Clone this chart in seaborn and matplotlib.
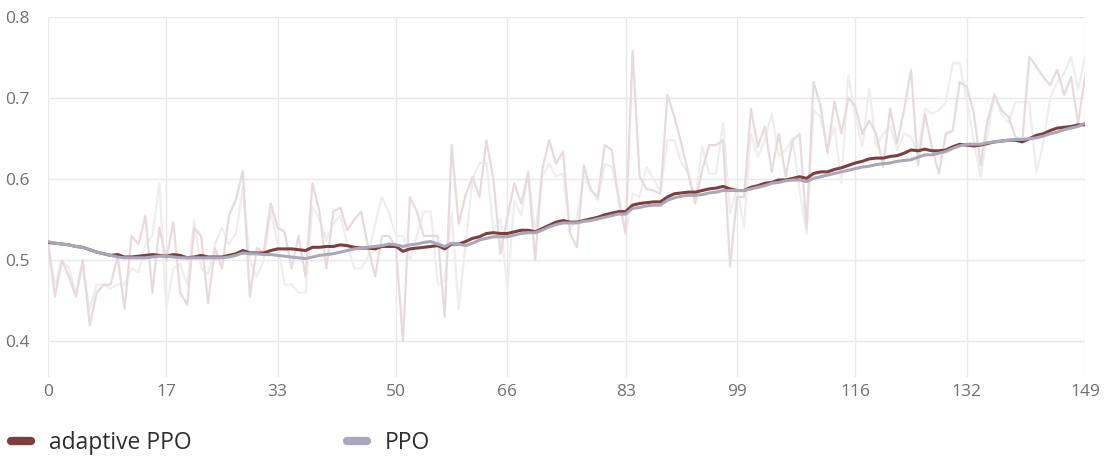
import numpy as np
import pandas as pd
import matplotlib
matplotlib.use("Agg")
import matplotlib.pyplot as plt
from matplotlib.lines import Line2D
import seaborn as sns

steps = list(range(150))

adaptive_raw = [
    0.523, 0.455, 0.50, 0.48, 0.455, 0.50, 0.42, 0.46, 0.47, 0.47,
    0.505, 0.44, 0.53, 0.52, 0.555, 0.46, 0.54, 0.50, 0.547, 0.46,
    0.445, 0.54, 0.53, 0.447, 0.515, 0.49, 0.555, 0.575, 0.61, 0.455,
    0.515, 0.51, 0.57, 0.54, 0.535, 0.49, 0.53, 0.48, 0.595, 0.56,
    0.49, 0.56, 0.565, 0.537, 0.55, 0.56, 0.516, 0.48, 0.53, 0.53,
    0.516, 0.40, 0.578, 0.56, 0.53, 0.53, 0.53, 0.43, 0.642, 0.545,
    0.58, 0.603, 0.578, 0.648, 0.60, 0.508, 0.553, 0.595, 0.57, 0.609,
    0.50, 0.611, 0.648, 0.619, 0.634, 0.533, 0.516, 0.617, 0.586, 0.578,
    0.642, 0.636, 0.574, 0.533, 0.758, 0.603, 0.588, 0.586, 0.582, 0.704,
    0.677, 0.644, 0.607, 0.57, 0.611, 0.642, 0.642, 0.648, 0.492, 0.578,
    0.578, 0.687, 0.64, 0.665, 0.609, 0.656, 0.603, 0.648, 0.656, 0.540,
    0.72, 0.69, 0.632, 0.696, 0.656, 0.70, 0.69, 0.656, 0.672, 0.656,
    0.615, 0.687, 0.644, 0.685, 0.735, 0.617, 0.68, 0.64, 0.607, 0.656,
    0.66, 0.72, 0.714, 0.683, 0.617, 0.673, 0.704, 0.685, 0.677, 0.652,
    0.648, 0.751, 0.739, 0.726, 0.716, 0.735, 0.704, 0.726, 0.669, 0.726,
]

ppo_raw = [
    0.52, 0.47, 0.50, 0.49, 0.46, 0.49, 0.44, 0.47, 0.47, 0.465,
    0.47, 0.47, 0.49, 0.485, 0.52, 0.53, 0.595, 0.44, 0.49, 0.495,
    0.47, 0.55, 0.49, 0.483, 0.52, 0.54, 0.52, 0.533, 0.59, 0.50,
    0.48, 0.50, 0.56, 0.52, 0.47, 0.47, 0.46, 0.46, 0.566, 0.55,
    0.525, 0.545, 0.555, 0.52, 0.49, 0.49, 0.505, 0.545, 0.578, 0.558,
    0.53, 0.53, 0.50, 0.53, 0.56, 0.56, 0.47, 0.475, 0.558, 0.44,
    0.52, 0.60, 0.62, 0.62, 0.537, 0.55, 0.463, 0.574, 0.555, 0.607,
    0.533, 0.603, 0.619, 0.603, 0.607, 0.537, 0.553, 0.603, 0.589, 0.574,
    0.619, 0.615, 0.578, 0.533, 0.582, 0.578, 0.615, 0.60, 0.586, 0.648,
    0.648, 0.62, 0.607, 0.574, 0.64, 0.607, 0.607, 0.669, 0.558, 0.59,
    0.541, 0.656, 0.628, 0.648, 0.681, 0.628, 0.636, 0.65, 0.586, 0.533,
    0.685, 0.677, 0.638, 0.665, 0.595, 0.728, 0.677, 0.64, 0.712, 0.64,
    0.656, 0.665, 0.636, 0.656, 0.652, 0.63, 0.687, 0.681, 0.685, 0.695,
    0.743, 0.743, 0.698, 0.648, 0.603, 0.656, 0.706, 0.68, 0.669, 0.695,
    0.695, 0.695, 0.609, 0.644, 0.70, 0.72, 0.73, 0.751, 0.71, 0.751,
]

adaptive_smooth = [
    0.522, 0.521, 0.520, 0.519, 0.517, 0.516, 0.513, 0.510, 0.508, 0.506,
    0.507, 0.504, 0.504, 0.505, 0.506, 0.507, 0.506, 0.505, 0.507, 0.506,
    0.503, 0.504, 0.506, 0.504, 0.504, 0.504, 0.506, 0.508, 0.512, 0.509,
    0.509, 0.509, 0.512, 0.514, 0.514, 0.514, 0.513, 0.512, 0.516, 0.516,
    0.517, 0.517, 0.519, 0.518, 0.516, 0.515, 0.515, 0.514, 0.517, 0.517,
    0.517, 0.511, 0.514, 0.515, 0.516, 0.517, 0.518, 0.514, 0.520, 0.520,
    0.523, 0.527, 0.529, 0.533, 0.534, 0.533, 0.533, 0.535, 0.537, 0.537,
    0.535, 0.539, 0.543, 0.547, 0.549, 0.547, 0.547, 0.549, 0.551, 0.553,
    0.556, 0.558, 0.560, 0.560, 0.568, 0.570, 0.571, 0.572, 0.572, 0.578,
    0.582, 0.583, 0.584, 0.584, 0.586, 0.588, 0.589, 0.591, 0.588, 0.586,
    0.586, 0.590, 0.592, 0.595, 0.596, 0.599, 0.599, 0.601, 0.603, 0.601,
    0.607, 0.609, 0.609, 0.612, 0.614, 0.617, 0.620, 0.622, 0.625, 0.626,
    0.626, 0.628, 0.629, 0.632, 0.636, 0.635, 0.637, 0.635, 0.635, 0.636,
    0.640, 0.643, 0.642, 0.641, 0.642, 0.644, 0.646, 0.647, 0.648, 0.648,
    0.646, 0.650, 0.654, 0.656, 0.660, 0.663, 0.664, 0.665, 0.667, 0.667,
]

ppo_smooth = [
    0.523, 0.521, 0.520, 0.519, 0.517, 0.516, 0.513, 0.510, 0.508, 0.506,
    0.504, 0.503, 0.503, 0.503, 0.503, 0.504, 0.505, 0.505, 0.504, 0.503,
    0.503, 0.503, 0.503, 0.503, 0.503, 0.503, 0.504, 0.506, 0.509, 0.508,
    0.508, 0.507, 0.507, 0.506, 0.505, 0.504, 0.503, 0.502, 0.504, 0.506,
    0.507, 0.508, 0.510, 0.512, 0.514, 0.515, 0.516, 0.517, 0.518, 0.520,
    0.519, 0.517, 0.519, 0.520, 0.522, 0.523, 0.520, 0.517, 0.521, 0.520,
    0.518, 0.521, 0.525, 0.527, 0.529, 0.529, 0.529, 0.531, 0.533, 0.534,
    0.534, 0.537, 0.541, 0.544, 0.546, 0.546, 0.546, 0.548, 0.549, 0.551,
    0.553, 0.555, 0.557, 0.557, 0.564, 0.565, 0.567, 0.568, 0.568, 0.574,
    0.577, 0.579, 0.580, 0.580, 0.581, 0.583, 0.584, 0.586, 0.586, 0.586,
    0.586, 0.588, 0.590, 0.592, 0.595, 0.596, 0.598, 0.599, 0.599, 0.597,
    0.601, 0.603, 0.605, 0.607, 0.609, 0.611, 0.613, 0.615, 0.616, 0.618,
    0.619, 0.620, 0.622, 0.623, 0.624, 0.627, 0.630, 0.630, 0.632, 0.634,
    0.638, 0.641, 0.643, 0.643, 0.643, 0.645, 0.646, 0.647, 0.648, 0.649,
    0.649, 0.650, 0.651, 0.653, 0.656, 0.658, 0.661, 0.663, 0.665, 0.669,
]

series_names = ["adaptive PPO", "PPO"]
x_ticks = [0, 17, 33, 50, 66, 83, 99, 116, 132, 149]
y_ticks = [0.4, 0.5, 0.6, 0.7, 0.8]

C_ADAPT = "#7d3e3e"
C_PPO = "#aaa7ba"
C_ADAPT_RAW = "#e8dadb"
C_PPO_RAW = "#eeedf0"

sns.set_theme(style="white")
plt.rcParams["font.family"] = ["Open Sans", "DejaVu Sans"]

fig = plt.figure(figsize=(11.05, 4.58), dpi=100)
ax = fig.add_axes([48 / 1105, 1 - 377 / 458, (1085 - 48) / 1105, (377 - 17) / 458])

sns.lineplot(x=steps, y=ppo_raw, ax=ax, color=C_PPO_RAW, lw=1.6, zorder=1)
sns.lineplot(x=steps, y=adaptive_raw, ax=ax, color=C_ADAPT_RAW, lw=1.6, zorder=2)
sns.lineplot(x=steps, y=adaptive_smooth, ax=ax, color=C_ADAPT, lw=2.2, zorder=3)
sns.lineplot(x=steps, y=ppo_smooth, ax=ax, color=C_PPO, lw=2.2, zorder=4)

ax.set_xlim(0, 149)
ax.set_ylim(0.356, 0.8)
ax.set_xticks(x_ticks)
ax.set_xticklabels([str(t) for t in x_ticks])
ax.set_yticks(y_ticks)
ax.set_yticklabels([f"{t:.1f}" for t in y_ticks])
ax.grid(True, color="#e9e7ea", lw=1.0)
ax.set_axisbelow(True)
for s in ax.spines.values():
    s.set_visible(False)
ax.tick_params(axis="both", length=0, labelsize=12.5, labelcolor="#707070")
ax.tick_params(axis="y", pad=13)
ax.tick_params(axis="x", pad=5)

handles = [Line2D([0], [0], color=C_ADAPT, lw=6, solid_capstyle="round"),
           Line2D([0], [0], color=C_PPO, lw=6, solid_capstyle="round")]
leg = fig.legend(handles, series_names, loc="center left", bbox_to_anchor=(0.01, 1 - 443 / 458),
                 ncol=2, frameon=False, fontsize=16.5, handlelength=0.85, handletextpad=0.8,
                 columnspacing=6.8, borderaxespad=0, borderpad=0.0)
for t in leg.get_texts():
    t.set_color("#2e2e2e")

fig.savefig("out.png", dpi=100)
